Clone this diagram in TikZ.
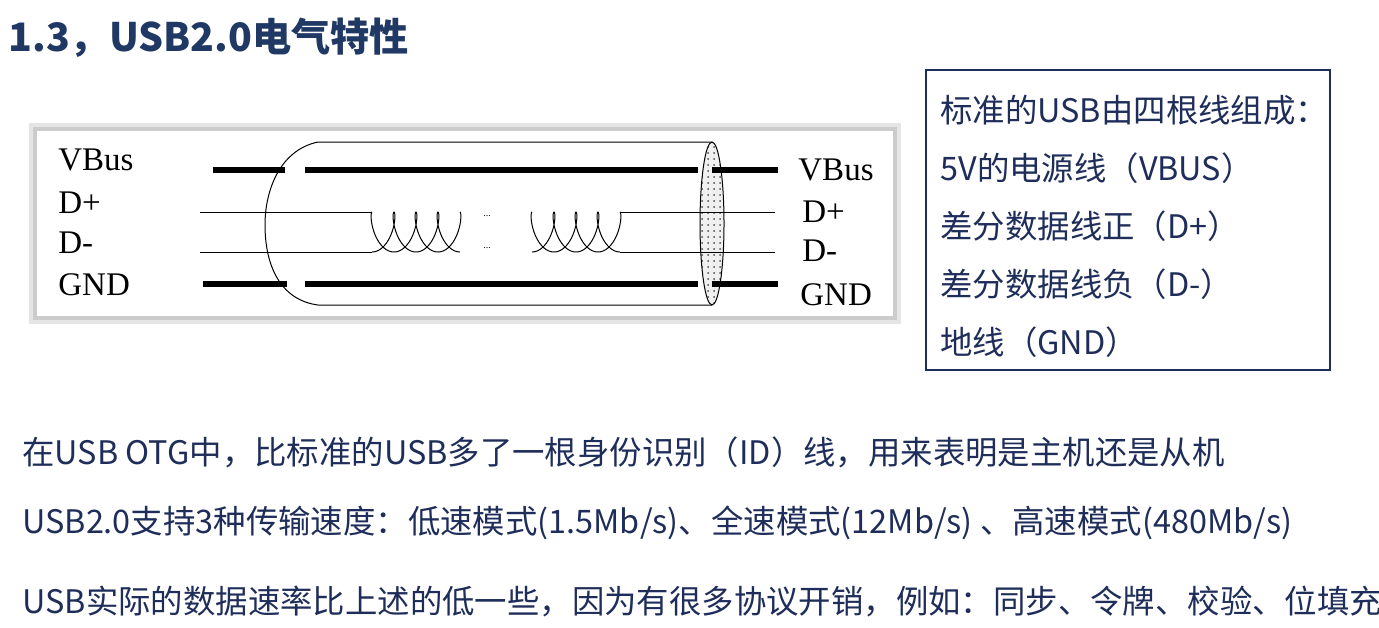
\documentclass[tikz,border=0pt]{standalone}
\usepackage{fontspec}
\setmainfont{Liberation Serif}
\newfontfamily\cjk{Noto Sans CJK SC}
\usetikzlibrary{patterns,shadows}
\definecolor{navy}{HTML}{1F2D5A}
\definecolor{ttl}{HTML}{203864}
\begin{document}
\begin{tikzpicture}[x=0.5pt,y=-0.5pt,
  body/.style={anchor=west,inner sep=0,text=navy,font=\cjk\fontsize{16.2}{17}\selectfont},
  lbl/.style={anchor=west,inner sep=0,font=\fontsize{16.5}{18}\selectfont},
  thick wire/.style={line width=2.6pt},
  thin wire/.style={line width=0.5pt}]
\useasboundingbox (0,0) rectangle (1379,627);
\node[anchor=west,inner sep=0,text=ttl,font=\cjk\bfseries\fontsize{19.6}{21}\selectfont] (title) at (8,38) {1.3，USB2.0电气特性};
% cable picture
\fill[gray!20] (29,123) rectangle (901,324);
\fill[gray!40] (33,127) rectangle (897,320);
\fill[white] (37,131) rectangle (893,316);
\node[lbl] (lv) at (58,160) {VBus};
\node[lbl] (lp) at (58,203) {D+};
\node[lbl] (lm) at (58,243) {D-};
\node[lbl] (lg) at (58,285) {GND};
\node[lbl] (rv) at (798,170) {VBus};
\node[lbl] (rp) at (802,212) {D+};
\node[lbl] (rm) at (802,251) {D-};
\node[lbl] (rg) at (800,295) {GND};
% jacket
\draw[thin wire] (712,142) -- (318,142) .. controls (280,150) and (265,190) .. (265,225) .. controls (265,265) and (280,300) .. (318,305) -- (712,305);
\fill[gray!12] (712,223.5) ellipse [x radius=12, y radius=81.5];
\draw[thin wire,pattern=dots,pattern color=black!70] (712,223.5) ellipse [x radius=12, y radius=81.5];
% wires
\draw[thick wire] (213,170) -- (285,170);
\draw[thick wire] (305,170) -- (698,170);
\draw[thick wire] (712,170) -- (778,170);
\draw[thick wire] (203,284) -- (287,284);
\draw[thick wire] (305,284) -- (698,284);
\draw[thick wire] (712,284) -- (778,284);
\draw[thin wire] (200,212) -- (372,212);
\draw[thin wire] (200,252) -- (372,252);
\draw[thin wire] (620,212) -- (775,212);
\draw[thin wire] (620,252) -- (775,252);
\foreach \xo in {372,532}{
  \draw[thin wire,domain=0:12.566,samples=150,smooth] plot ({\xo+7*\x-9*sin(\x r)},{232-20*cos(\x r)});
  \draw[thin wire,domain=0:12.566,samples=150,smooth] plot ({\xo+7*\x+9*sin(\x r)},{232+20*cos(\x r)});
}
\node[font=\tiny,inner sep=0] (d1) at (487,216) {...};
\node[font=\tiny,inner sep=0] (d2) at (487,248) {...};
% box
\draw[navy,line width=0.8pt] (926,70) rectangle (1330,370);
\node[body] (b1) at (940,110) {标准的USB由四根线组成：};
\node[body] (b2) at (940,168) {5V的电源线（VBUS）};
\node[body] (b3) at (940,226) {差分数据线正（D+）};
\node[body] (b4) at (940,284) {差分数据线负（D-）};
\node[body] (b5) at (940,342) {地线（GND）};
\node[body] (t1) at (22,452) {在USB OTG中，比标准的USB多了一根身份识别（ID）线，用来表明是主机还是从机};
\node[body] (t2) at (22,523) {USB2.0支持3种传输速度：低速模式(1.5Mb/s)、全速模式(12Mb/s) 、高速模式(480Mb/s)};
\node[body] (t3) at (22,601) {USB实际的数据速率比上述的低一些，因为有很多协议开销，例如：同步、令牌、校验、位填充};
\end{tikzpicture}
\end{document}
